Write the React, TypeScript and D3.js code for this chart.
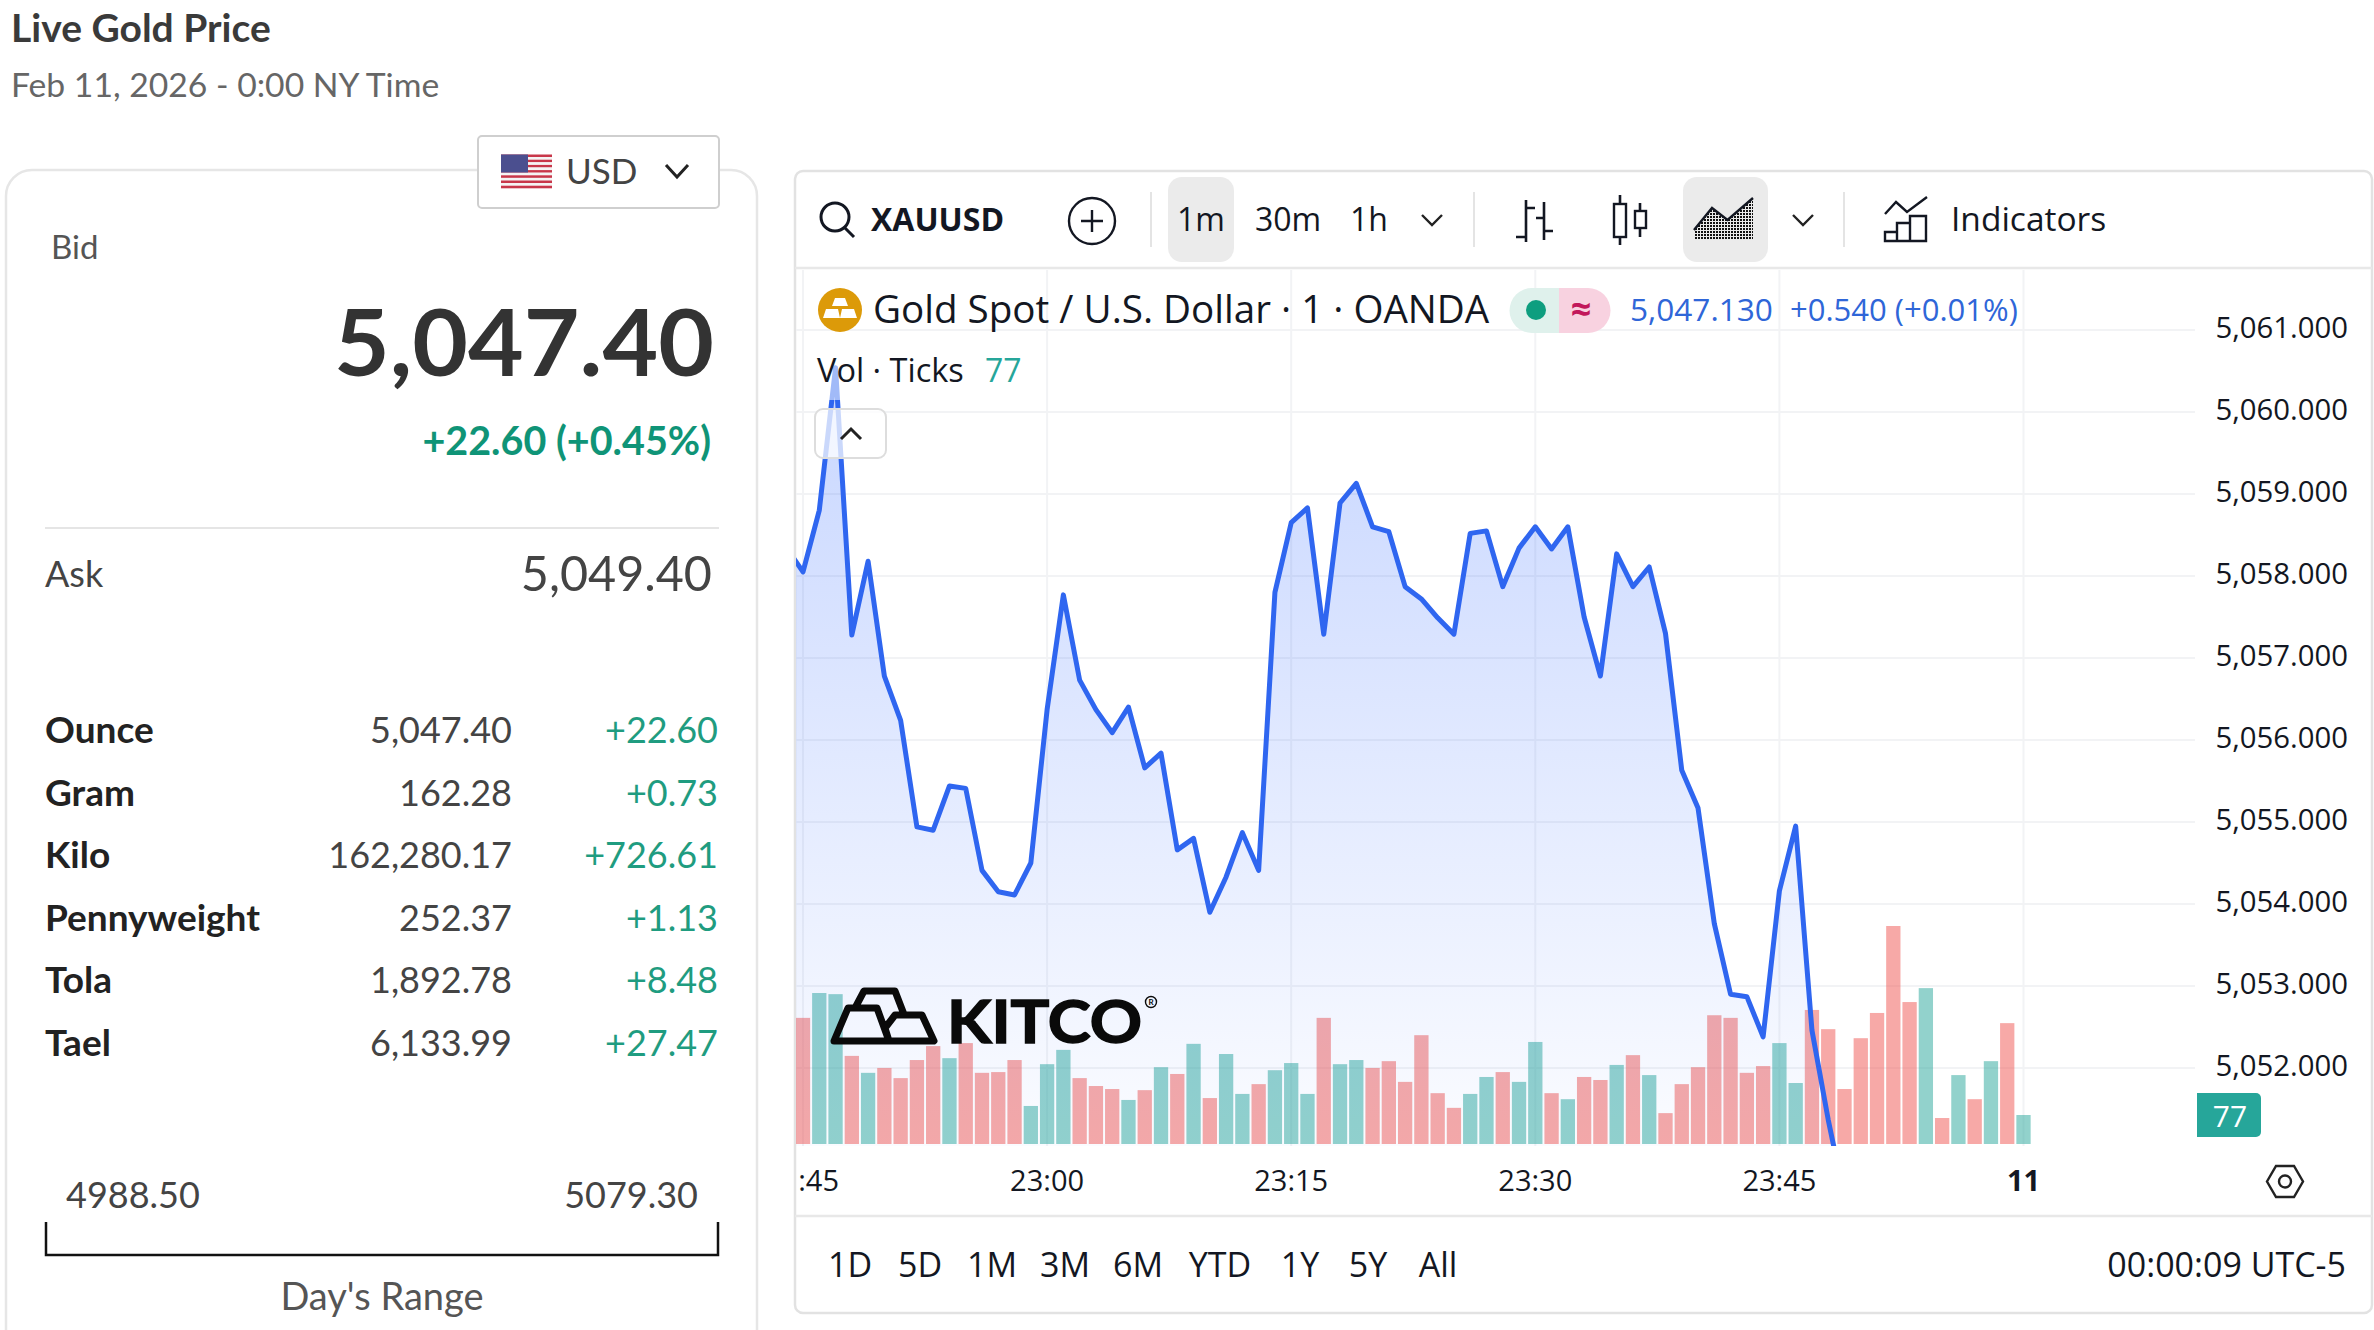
import React from "react";
import * as d3 from "d3";

// price per minute, first value sits one minute before the 22:45 tick
const priceValues = [
  5058.34, 5058.05, 5058.8, 5060.54, 5057.28, 5058.18, 5056.78, 5056.24, 5054.94, 5054.9,
  5055.44, 5055.41, 5054.41, 5054.15, 5054.11, 5054.5, 5056.37, 5057.77, 5056.73, 5056.37,
  5056.09, 5056.4, 5055.66, 5055.84, 5054.66, 5054.8, 5053.9, 5054.33, 5054.87, 5054.41,
  5057.8, 5058.65, 5058.83, 5057.29, 5058.89, 5059.13, 5058.6, 5058.54, 5057.87, 5057.72,
  5057.49, 5057.29, 5058.52, 5058.55, 5057.87, 5058.34, 5058.6, 5058.33, 5058.6, 5057.5,
  5056.78, 5058.27, 5057.87, 5058.11, 5057.3, 5055.63, 5055.17, 5053.76, 5052.9, 5052.87,
  5052.38, 5054.16, 5054.95, 5052.46, 5051.37, 5050.41,
];
const volumeValues = [
  335, 401, 398, 234, 189, 202, 175, 223, 260, 228, 268, 189, 191, 223, 101, 212, 250, 175, 154,
  146, 117, 143, 204, 186, 266, 122, 239, 133, 159, 196, 215, 133, 335, 212, 223, 202, 220, 165,
  289, 135, 96, 133, 178, 191, 165, 271, 135, 119, 178, 170, 210, 236, 183, 82, 159, 204, 342,
  335, 189, 207, 268, 162, 356, 305, 146, 281, 348, 579, 377, 414, 69, 183, 119, 220, 321, 77,
];
const tealBars = [1, 2, 4, 9, 14, 15, 16, 20, 22, 24, 26, 27, 29, 30, 31, 33, 34, 41, 42, 44, 45, 47, 50, 52, 60, 61, 69, 71, 73, 75];
const priceTicks = [5061, 5060, 5059, 5058, 5057, 5056, 5055, 5054, 5053, 5052];
const timeTicks = [0, 15, 30, 45, 60, 75];
const timeLabels = [":45", "23:00", "23:15", "23:30", "23:45", "11"];
const rangeButtons = ["1D", "5D", "1M", "3M", "6M", "YTD", "1Y", "5Y", "All"];
const rangeButtonX = [850, 920, 992, 1065, 1138, 1220, 1300, 1368, 1438];
const unitNames = ["Ounce", "Gram", "Kilo", "Pennyweight", "Tola", "Tael"];
const unitPrices = ["5,047.40", "162.28", "162,280.17", "252.37", "1,892.78", "6,133.99"];
const unitChanges = ["+22.60", "+0.73", "+726.61", "+1.13", "+8.48", "+27.47"];

const LEFT_FONT = "Lato, sans-serif";
const CHART_FONT = "'Open Sans', sans-serif";
const plot = { left: 796, right: 2195, top: 270, bottom: 1146 };

const x = d3.scaleLinear().domain([0, 75]).range([803, 2023.5]);
const y = d3.scaleLinear().domain([5061, 5052]).range([330, 1068]);
const yVol = d3.scaleLinear().domain([0, 579]).range([1144, 926]);

const linePath = d3.line<number>().x((_, i) => x(i - 1)).y((d) => y(d))(priceValues) as string;
const areaPath = d3
  .area<number>()
  .x((_, i) => x(i - 1))
  .y0(plot.bottom + 60)
  .y1((d) => y(d))(priceValues) as string;

const Chevron = ({ cx, cy, w = 10, h = 5, up = false, sw = 2.4 }: any) => (
  <path
    d={up ? `M${cx - w},${cy + h}L${cx},${cy - h}L${cx + w},${cy + h}` : `M${cx - w},${cy - h}L${cx},${cy + h}L${cx + w},${cy - h}`}
    fill="none"
    stroke="#222"
    strokeWidth={sw}
  />
);

const UsFlag = () => {
  const stripes = d3.range(13);
  return (
    <g>
      {stripes.map((s) => (
        <rect key={s} x={501} y={154.5 + s * 2.6} width={51} height={2.6} fill={s % 2 ? "#f4f4f4" : "#c8374a"} />
      ))}
      <rect x={501} y={154.5} width={27} height={18} fill="#4b4f8f" />
    </g>
  );
};

export default function App() {
  return (
    <svg
      width={2374}
      height={1330}
      viewBox="0 0 2374 1330"
      style={{ position: "fixed", left: 0, top: 0, display: "block", background: "#fff" }}
    >
      <defs>
        <linearGradient id="areaFill" gradientUnits="userSpaceOnUse" x1="0" x2="0" y1="365" y2="1146">
          <stop offset="0" stopColor="#2962ff" stopOpacity={0.26} />
          <stop offset="1" stopColor="#2962ff" stopOpacity={0.02} />
        </linearGradient>
        <clipPath id="plotClip">
          <rect x={plot.left} y={plot.top} width={plot.right - plot.left} height={plot.bottom - plot.top} />
        </clipPath>
        <pattern id="dots" width="3" height="3" patternUnits="userSpaceOnUse">
          <rect width="2" height="2" fill="#111" />
        </pattern>
      </defs>

      {/* left panel */}
      <g fontFamily={LEFT_FONT}>
        <text x={11} y={42} fontSize={39} fontWeight={700} fill="#3a3a3a">Live Gold Price</text>
        <text x={11} y={97} fontSize={33.7} fill="#666">Feb 11, 2026 - 0:00 NY Time</text>
        <rect x={6} y={170} width={751} height={1200} rx={26} fill="#fff" stroke="#e6e6e6" strokeWidth={2.5} />
        <rect x={478} y={136} width={241} height={72} rx={4} fill="#fff" stroke="#cfcfcf" strokeWidth={2} />
        <UsFlag />
        <text x={566} y={184} fontSize={35} fill="#444">USD</text>
        <Chevron cx={677} cy={171} w={11} h={6} sw={3} />
        <text x={51} y={259} fontSize={33} fill="#555">Bid</text>
        <text x={714} y={376} fontSize={92} fontWeight={700} fill="#333" textAnchor="end" textLength={380} lengthAdjust="spacingAndGlyphs">5,047.40</text>
        <text x={711} y={455} fontSize={39.5} fontWeight={700} fill="#0f9477" textAnchor="end">+22.60 (+0.45%)</text>
        <line x1={45} x2={719} y1={528} y2={528} stroke="#e5e5e5" strokeWidth={2} />
        <text x={45} y={587} fontSize={36} fill="#444">Ask</text>
        <text x={712} y={591} fontSize={48.5} fill="#444" textAnchor="end">5,049.40</text>
        {unitNames.map((name, i) => {
          const rowY = 743 + i * 62.6;
          return (
            <g key={name} fontSize={36}>
              <text x={45} y={rowY} fontSize={37} fontWeight={700} fill="#222">{name}</text>
              <text x={512} y={rowY} fill="#444" textAnchor="end">{unitPrices[i]}</text>
              <text x={718} y={rowY} fill="#1f9c80" textAnchor="end">{unitChanges[i]}</text>
            </g>
          );
        })}
        <text x={66} y={1208} fontSize={36} fill="#444">4988.50</text>
        <text x={698} y={1208} fontSize={36} fill="#444" textAnchor="end">5079.30</text>
        <path d="M46,1222V1255H718V1222" fill="none" stroke="#111" strokeWidth={2.5} />
        <text x={382} y={1310} fontSize={38} fill="#555" textAnchor="middle">Day's Range</text>
      </g>

      {/* chart frame */}
      <rect x={795} y={171} width={1577} height={1142} rx={8} fill="#fff" stroke="#e2e2e2" strokeWidth={2.5} />
      <line x1={795} x2={2372} y1={268} y2={268} stroke="#e8e8e8" strokeWidth={2.5} />
      <line x1={795} x2={2372} y1={1216} y2={1216} stroke="#e8e8e8" strokeWidth={2.5} />

      {/* grid */}
      <g stroke="#f2f3f5" strokeWidth={2}>
        {priceTicks.map((t) => (
          <line key={t} x1={plot.left} x2={plot.right} y1={y(t)} y2={y(t)} />
        ))}
        {timeTicks.map((t) => (
          <line key={t} x1={x(t)} x2={x(t)} y1={plot.top} y2={plot.bottom} />
        ))}
      </g>

      {/* volume, area, line */}
      <g clipPath="url(#plotClip)">
        {volumeValues.map((v, i) => (
          <rect
            key={i}
            x={x(i) - 7.15}
            y={yVol(v)}
            width={14.3}
            height={yVol(0) - yVol(v)}
            fill={tealBars.includes(i) ? "#26a69a" : "#ef5350"}
            fillOpacity={0.5}
          />
        ))}
        <path d={areaPath} fill="url(#areaFill)" />
        <path d={linePath} fill="none" stroke="#2f66f0" strokeWidth={5} strokeLinejoin="round" />
      </g>

      {/* toolbar */}
      <g fontFamily={CHART_FONT} fill="#131722">
        <circle cx={835} cy={217} r={14} fill="none" stroke="#131722" strokeWidth={3} />
        <line x1={845} y1={228} x2={854} y2={237} stroke="#131722" strokeWidth={3} />
        <text x={871} y={231} fontSize={32} fontWeight={700}>XAUUSD</text>
        <circle cx={1092} cy={221} r={23} fill="none" stroke="#131722" strokeWidth={2.4} />
        <path d="M1081,221H1103M1092,210V232" stroke="#131722" strokeWidth={2.4} />
        <line x1={1151} x2={1151} y1={192} y2={247} stroke="#e4e4e4" strokeWidth={2} />
        <rect x={1168} y={177} width={66} height={85} rx={14} fill="#ebebeb" />
        <text x={1201} y={231} fontSize={32} textAnchor="middle">1m</text>
        <text x={1288} y={231} fontSize={32} textAnchor="middle">30m</text>
        <text x={1369} y={231} fontSize={32} textAnchor="middle">1h</text>
        <Chevron cx={1432} cy={220} />
        <line x1={1474} x2={1474} y1={192} y2={247} stroke="#e4e4e4" strokeWidth={2} />
        <path d="M1526,200V242M1516,237H1526M1526,208H1535M1544,202V240M1536,218H1544M1544,231H1553" fill="none" stroke="#131722" strokeWidth={2.6} />
        <path d="M1620,195V245M1640,203V237" stroke="#131722" strokeWidth={2.6} />
        <rect x={1614} y={204} width={12} height={33} fill="#fff" stroke="#131722" strokeWidth={2.4} />
        <rect x={1635} y={211} width={11} height={17} fill="#fff" stroke="#131722" strokeWidth={2.4} />
        <rect x={1683} y={177} width={85} height={85} rx={14} fill="#ebebeb" />
        <path d="M1694,240V230L1712,208L1727.5,220L1753,198V240Z" fill="url(#dots)" />
        <path d="M1694,230L1712,208L1727.5,220L1753,198" fill="none" stroke="#131722" strokeWidth={2.4} />
        <Chevron cx={1803} cy={220} />
        <line x1={1844} x2={1844} y1={192} y2={247} stroke="#e4e4e4" strokeWidth={2} />
        <path d="M1885,214L1896,202L1907,212L1927,197" fill="none" stroke="#131722" strokeWidth={2.4} />
        <path d="M1885,241V232H1897V241ZM1897,241V223H1910V241ZM1910,241V216H1926V241Z" fill="none" stroke="#131722" strokeWidth={2.4} />
        <text x={1951} y={231} fontSize={33.5}>Indicators</text>
      </g>

      {/* legend */}
      <g fontFamily={CHART_FONT} fill="#131722">
        <circle cx={840} cy={310} r={22} fill="#dc9a09" />
        <path d="M835,298H845L848,306H832ZM826,309H838L840,318H823ZM842,309H854L857,318H840Z" fill="#fff" />
        <text x={873} y={323} fontSize={38.6}>Gold Spot / U.S. Dollar · 1 · OANDA</text>
        <path d="M1559,288H1532A22.5,22.5 0 0 0 1532,333H1559Z" fill="#dff1ec" />
        <path d="M1559,288H1588A22.5,22.5 0 0 1 1588,333H1559Z" fill="#f8d2e0" />
        <circle cx={1536} cy={310} r={10} fill="#0e9e7f" />
        <text x={1581} y={322} fontSize={36} fontWeight={700} fill="#c2185b" textAnchor="middle">≈</text>
        <text x={1630} y={321} fontSize={31.6} fill="#2f66d8">5,047.130</text>
        <text x={1790} y={321} fontSize={31} fill="#2f66d8">+0.540 (+0.01%)</text>
        <rect x={815} y={345} width={210} height={55} fill="#fff" fillOpacity={0.55} />
        <text x={817} y={382} fontSize={32.5}>Vol · Ticks</text>
        <text x={985} y={382} fontSize={32} fill="#26a69a">77</text>
        <rect x={815} y={409} width={71} height={49} rx={8} fill="#fff" fillOpacity={0.75} stroke="#ddd" strokeWidth={2} />
        <Chevron cx={851} cy={434} h={5} up sw={3} />
      </g>

      {/* logo */}
      <g fontFamily={LEFT_FONT}>
        <path
          d="M855,1008L864,991H895L905,1017M834,1041L848,1008H877L889,1041ZM889,1041L885,1028L895,1015H922L934,1041Z"
          fill="none"
          stroke="#0a0a0a"
          strokeWidth={7}
          strokeLinejoin="round"
        />
        <text x={947} y={1043} fontSize={60} fontWeight={700} fill="#0a0a0a" stroke="#0a0a0a" strokeWidth={1.5} textLength={195} lengthAdjust="spacingAndGlyphs">KITCO</text>
        <circle cx={1151} cy={1002} r={5.5} fill="none" stroke="#0a0a0a" strokeWidth={1.4} />
        <text x={1151} y={1005} fontSize={8} fontWeight={700} fill="#0a0a0a" textAnchor="middle">R</text>
      </g>

      {/* price axis */}
      <g fontFamily={CHART_FONT} fontSize={29.3} fill="#131722">
        {priceTicks.map((t) => (
          <text key={t} x={2348} y={y(t) + 8} textAnchor="end">{d3.format(",.3f")(t)}</text>
        ))}
        <path d="M2197,1093H2256A5,5 0 0 1 2261,1098V1132A5,5 0 0 1 2256,1137H2197Z" fill="#26a69a" />
        <text x={2230} y={1127} fontSize={30} fill="#fff" textAnchor="middle">77</text>
      </g>

      {/* time axis */}
      <g fontFamily={CHART_FONT} fontSize={29} fill="#131722">
        {timeTicks.map((t, i) =>
          i === 0 ? (
            <text key={t} x={x(t) + 36} y={1191} textAnchor="end">{timeLabels[i]}</text>
          ) : (
            <text key={t} x={x(t)} y={1191} textAnchor="middle" fontWeight={i === 5 ? 700 : 400}>{timeLabels[i]}</text>
          )
        )}
        <path d="M2276,1166H2294L2303,1181.5L2294,1197H2276L2267,1181.5Z" fill="none" stroke="#222" strokeWidth={2.4} />
        <circle cx={2285} cy={1181.5} r={6} fill="none" stroke="#222" strokeWidth={2.4} />
      </g>

      {/* bottom bar */}
      <g fontFamily={CHART_FONT} fontSize={34} fill="#131722">
        {rangeButtons.map((b, i) => (
          <text key={b} x={rangeButtonX[i]} y={1277} textAnchor="middle">{b}</text>
        ))}
        <text x={2346} y={1277} textAnchor="end">00:00:09 UTC-5</text>
      </g>
    </svg>
  );
}
